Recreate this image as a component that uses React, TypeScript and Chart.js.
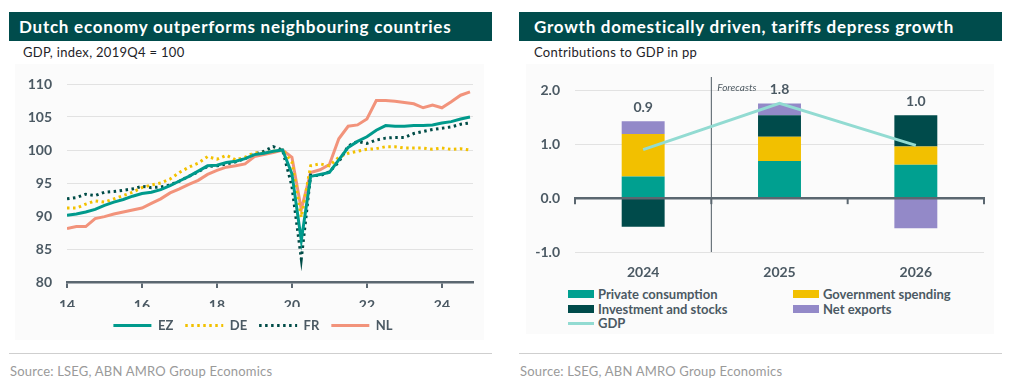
import React, { useEffect, useRef } from "react";
import { Chart, registerables } from "chart.js";

Chart.register(...registerables);

const FONT = "Lato, 'Open Sans', sans-serif";
const SLATE = "#4b5963";
const AXIS = "#5b6770";

// ---------- Left chart: GDP index, 2019Q4 = 100 (quarterly, 2014Q1 .. 2024Q4) ----------
const firstYear = 14; // axis shows two-digit years
const quartersPerYear = 4;
const leftTickYears = [14, 16, 18, 20, 22, 24];
const ezValues = [
  90.1, 90.3, 90.6, 91.0,
  91.6, 92.1, 92.5, 93.0,
  93.4, 93.6, 94.0, 94.6,
  95.3, 96.0, 96.8, 97.6,
  97.7, 98.1, 98.3, 98.7,
  99.3, 99.5, 99.8, 100.0,
  96.4, 86.3, 96.0, 96.3,
  96.6, 98.5, 100.4, 101.3,
  102.0, 103.0, 103.7, 103.6,
  103.6, 103.7, 103.7, 103.8,
  104.1, 104.3, 104.7, 105.0,
];
const deValues = [
  91.2, 91.2, 91.8, 92.3,
  92.1, 92.6, 93.1, 93.6,
  94.3, 94.7, 95.0, 95.6,
  96.6, 97.4, 98.0, 99.0,
  98.6, 99.2, 98.5, 98.9,
  99.6, 99.5, 99.8, 100.0,
  98.2, 89.8, 97.6, 97.9,
  97.6, 98.9, 99.5, 99.8,
  100.1, 100.2, 100.5, 100.5,
  100.3, 100.3, 100.3, 100.1,
  100.3, 100.1, 100.2, 100.0,
];
const frValues = [
  92.6, 92.8, 93.3, 93.1,
  93.6, 93.7, 93.9, 94.1,
  94.5, 94.3, 94.4, 94.7,
  95.3, 96.0, 96.7, 97.5,
  97.6, 97.9, 98.2, 98.7,
  99.4, 99.8, 100.5, 100.0,
  94.5, 83.5, 96.2, 96.1,
  96.7, 98.2, 100.6, 101.3,
  101.0, 101.5, 101.8, 101.9,
  101.9, 102.5, 102.8, 103.1,
  103.3, 103.5, 103.9, 104.1,
];
const nlValues = [
  88.1, 88.4, 88.4, 89.6,
  89.9, 90.3, 90.6, 90.9,
  91.2, 91.9, 92.6, 93.5,
  94.1, 94.8, 95.4, 96.3,
  96.9, 97.4, 97.6, 97.9,
  99.0, 99.3, 99.6, 100.0,
  98.9, 91.0, 96.6, 97.0,
  97.8, 101.7, 103.6, 103.8,
  104.7, 107.5, 107.5, 107.4,
  107.2, 107.0, 106.4, 106.8,
  106.4, 107.3, 108.3, 108.8,
];

// ---------- Right chart: contributions to GDP growth, pp ----------
const barYears = ["2024", "2025", "2026"];
const privateConsumption = [0.4, 0.69, 0.62];
const governmentSpending = [0.79, 0.45, 0.34];
const investmentStocks = [-0.53, 0.4, 0.58];
const netExports = [0.24, 0.22, -0.56];
const gdpGrowth = [0.9, 1.76, 0.98];
const forecastLabel = "Forecasts";

const COLORS = {
  ez: "#009a8c",
  de: "#f2c100",
  fr: "#004c47",
  nl: "#f2937b",
  pc: "#00a090",
  gs: "#f2c000",
  is: "#004b4b",
  nx: "#9389c8",
  gdp: "#92dbd2",
  header: "#004c4c",
};

const toPoints = (vals: number[]) =>
  vals.map((v, i) => ({ x: firstYear + i / quartersPerYear, y: v }));

const font = (size: number, weight: any = "bold") => ({ family: FONT, size, weight });

const noScalePad = (s: any) => {
  s.paddingTop = 0;
  s.paddingBottom = 0;
};

function LeftChart() {
  const ref = useRef<HTMLCanvasElement>(null);
  useEffect(() => {
    const lineDs = (label: string, vals: number[], color: string, dash?: number[]) => ({
      label,
      data: toPoints(vals),
      borderColor: color,
      backgroundColor: color,
      borderWidth: 3,
      borderDash: dash || [],
      borderCapStyle: "butt",
      pointRadius: 0,
      pointStyle: "line",
      tension: 0,
      fill: false,
    });
    const legendShift = {
      id: "legendShift",
      afterLayout(chart: any) {
        const l = chart.legend;
        if (l) {
          l.left += 12;
          l.right += 12;
        }
      },
    };
    const chart = new Chart(ref.current!, {
      type: "line",
      data: {
        datasets: [
          lineDs("EZ", ezValues, COLORS.ez),
          lineDs("DE", deValues, COLORS.de, [2.5, 3.5]),
          lineDs("FR", frValues, COLORS.fr, [2.5, 3.5]),
          lineDs("NL", nlValues, COLORS.nl),
        ] as any,
      },
      options: {
        animation: false,
        responsive: false,
        maintainAspectRatio: false,
        layout: { padding: { top: 24, right: 19, left: 0, bottom: 3 } },
        scales: {
          x: {
            type: "linear",
            min: leftTickYears[0],
            max: 24.83,
            afterBuildTicks: (s: any) => {
              s.ticks = leftTickYears.map((v) => ({ value: v }));
            },
            afterFit: (s: any) => {
              s.height = 25;
            },
            ticks: { font: font(14), color: SLATE, padding: 9, includeBounds: false, callback: (v: any) => String(v) },
            grid: { drawOnChartArea: false, drawTicks: true, tickLength: 6, color: AXIS, lineWidth: 2 },
            border: { display: true, color: AXIS, width: 2.5 },
          },
          y: {
            min: 80,
            max: 110,
            afterFit: (s: any) => {
              s.width = 58;
              noScalePad(s);
            },
            ticks: { stepSize: 5, includeBounds: false, font: font(14), color: SLATE, padding: 15 },
            grid: { color: "#e2e2e2", lineWidth: 1, drawTicks: false },
            border: { display: false },
          },
        },
        plugins: {
          tooltip: { enabled: false },
          legend: {
            position: "bottom",
            labels: {
              usePointStyle: true,
              pointStyle: "line",
              pointStyleWidth: 38,
              boxWidth: 38,
              boxHeight: 13,
              padding: 12,
              color: SLATE,
              font: font(13),
              generateLabels: (chart: any) =>
                chart.data.datasets.map((ds: any, i: number) => ({
                  text: ds.label,
                  datasetIndex: i,
                  strokeStyle: ds.borderColor,
                  fillStyle: ds.borderColor,
                  fontColor: SLATE,
                  lineWidth: 3,
                  lineDash: ds.borderDash,
                  lineCap: "butt",
                  pointStyle: "line",
                  hidden: false,
                })),
            },
          },
        },
      } as any,
      plugins: [legendShift],
    });
    return () => chart.destroy();
  }, []);
  return <canvas ref={ref} width={483} height={285} style={{ width: 483, height: 285, display: "block" }} />;
}

function RightChart() {
  const ref = useRef<HTMLCanvasElement>(null);
  useEffect(() => {
    const series = [privateConsumption, governmentSpending, investmentStocks, netExports];
    const annot = {
      id: "annot",
      beforeDatasetsDraw(chart: any) {
        const { ctx, chartArea, scales } = chart;
        const x = scales.x;
        const fx = x.getPixelForValue(0.5);
        ctx.save();
        ctx.strokeStyle = "#4f5b63";
        ctx.lineWidth = 1;
        ctx.beginPath();
        ctx.moveTo(fx, chartArea.top);
        ctx.lineTo(fx, chartArea.bottom);
        ctx.stroke();
        ctx.fillStyle = "#4f5b63";
        ctx.font = `italic 10px ${FONT}`;
        ctx.textAlign = "left";
        ctx.textBaseline = "middle";
        ctx.fillText(forecastLabel, fx + 6, chartArea.top + 11);
        ctx.restore();
      },
      afterDatasetsDraw(chart: any) {
        const { ctx, chartArea, scales } = chart;
        const x = scales.x;
        const y = scales.y;
        const y0 = y.getPixelForValue(0);
        ctx.save();
        ctx.strokeStyle = AXIS;
        ctx.lineWidth = 2.5;
        ctx.beginPath();
        ctx.moveTo(chartArea.left - 1, y0);
        ctx.lineTo(chartArea.right + 1, y0);
        ctx.stroke();
        ctx.lineWidth = 2;
        for (let i = 0; i <= barYears.length; i++) {
          const px = x.getPixelForValue(i - 0.5);
          ctx.beginPath();
          ctx.moveTo(px, y0);
          ctx.lineTo(px, y0 + 6);
          ctx.stroke();
        }
        ctx.fillStyle = SLATE;
        ctx.font = `bold 14px ${FONT}`;
        ctx.textAlign = "center";
        ctx.textBaseline = "middle";
        barYears.forEach((_, i) => {
          const pos = series.reduce((a, s) => a + Math.max(0, s[i]), 0);
          ctx.fillText(gdpGrowth[i].toFixed(1), x.getPixelForValue(i), y.getPixelForValue(pos) - 14);
        });
        ctx.restore();
      },
    };
    const barDs = (label: string, vals: number[], color: string) => ({
      type: "bar",
      label,
      data: vals,
      backgroundColor: color,
      stack: "contrib",
      order: 1,
      barPercentage: 1,
      categoryPercentage: 0.315,
    });
    const chart = new Chart(ref.current!, {
      type: "bar",
      data: {
        labels: barYears,
        datasets: [
          {
            type: "line",
            label: "GDP",
            data: gdpGrowth,
            borderColor: COLORS.gdp,
            backgroundColor: COLORS.gdp,
            borderWidth: 3,
            pointRadius: 0,
            tension: 0,
            stack: "gdp",
            order: 0,
          },
          barDs("Private consumption", privateConsumption, COLORS.pc),
          barDs("Government spending", governmentSpending, COLORS.gs),
          barDs("Investment and stocks", investmentStocks, COLORS.is),
          barDs("Net exports", netExports, COLORS.nx),
        ] as any,
      },
      options: {
        animation: false,
        responsive: false,
        maintainAspectRatio: false,
        layout: { padding: { top: 17, right: 18, left: 0, bottom: 0 } },
        scales: {
          x: {
            stacked: true,
            afterFit: (s: any) => {
              s.height = 33;
            },
            ticks: { font: font(14), color: SLATE, padding: 12 },
            grid: { display: false, drawTicks: false },
            border: { display: false },
          },
          y: {
            stacked: true,
            min: -1,
            max: 2.25,
            afterFit: (s: any) => {
              s.width = 56;
              noScalePad(s);
            },
            afterBuildTicks: (s: any) => {
              s.ticks = s.ticks.filter((t: any) => Number.isInteger(Math.round(t.value * 1000) / 1000));
            },
            ticks: {
              stepSize: 1,
              includeBounds: false,
              font: font(14),
              color: SLATE,
              padding: 15,
              callback: (v: any) => Number(v).toFixed(1),
            },
            grid: { color: "#e2e2e2", lineWidth: 1, drawTicks: false },
            border: { display: false },
          },
        },
        plugins: { legend: { display: false }, tooltip: { enabled: false } },
      } as any,
      plugins: [annot],
    });
    return () => chart.destroy();
  }, []);
  return <canvas ref={ref} width={483} height={225} style={{ width: 483, height: 225, display: "block" }} />;
}

const legendItems = [
  { label: "Private consumption", color: COLORS.pc, kind: "box", col: 0, row: 0 },
  { label: "Government spending", color: COLORS.gs, kind: "box", col: 1, row: 0 },
  { label: "Investment and stocks", color: COLORS.is, kind: "box", col: 0, row: 1 },
  { label: "Net exports", color: COLORS.nx, kind: "box", col: 1, row: 1 },
  { label: "GDP", color: COLORS.gdp, kind: "line", col: 0, row: 2 },
];

const abs = (x: number, y: number, extra: any = {}) => ({ position: "absolute" as const, left: x - 8, top: y - 8, ...extra });

const headerStyle = {
  height: 29,
  background: COLORS.header,
  color: "#fff",
  fontWeight: 700,
  fontSize: 17,
  letterSpacing: "0.75px",
  lineHeight: "29px",
  whiteSpace: "nowrap",
};

export default function App() {
  const colX = [568, 793];
  const rowY = [294, 308.5, 323];
  return (
    <div style={{ position: "relative", width: 996, height: 373, fontFamily: FONT, background: "#fff" }}>
      {/* plot backdrops */}
      <div style={abs(15, 64, { width: 469, height: 276, background: "#fbfbfb" })} />
      <div style={abs(526, 64, { width: 468, height: 270, background: "#fbfbfb" })} />

      {/* headers */}
      <div style={abs(9, 12, { ...headerStyle, width: 473, paddingLeft: 10 })}>
        Dutch economy outperforms neighbouring countries
      </div>
      <div style={abs(519, 12, { ...headerStyle, width: 468, paddingLeft: 15 })}>
        Growth domestically driven, tariffs depress growth
      </div>
      <div style={abs(23, 45, { fontSize: 13, letterSpacing: "0.3px", lineHeight: "14px", color: "#1e2328", whiteSpace: "nowrap" })}>GDP, index, 2019Q4 = 100</div>
      <div style={abs(534, 45, { fontSize: 13, letterSpacing: "0.3px", lineHeight: "14px", color: "#1e2328", whiteSpace: "nowrap" })}>Contributions to GDP in pp</div>

      <div style={abs(9, 60)}>
        <LeftChart />
      </div>
      <div style={abs(519, 60)}>
        <RightChart />
      </div>

      {/* right legend */}
      {legendItems.map((it) => (
        <div key={it.label} style={abs(colX[it.col], rowY[it.row] - 8, { height: 16, display: "flex", alignItems: "center", whiteSpace: "nowrap" })}>
          <span
            style={{
              display: "inline-block",
              width: 26,
              height: it.kind === "box" ? 8 : 3,
              background: it.color,
              marginRight: 4,
            }}
          />
          <span style={{ fontSize: 13, fontWeight: 700, color: SLATE, lineHeight: "16px" }}>{it.label}</span>
        </div>
      ))}

      {/* footers */}
      <div style={abs(9, 352.5, { width: 483, height: 1, background: "#cfcfcf" })} />
      <div style={abs(519, 352.5, { width: 483, height: 1, background: "#cfcfcf" })} />
      <div style={abs(10, 363, { fontSize: 13, letterSpacing: "0.2px", lineHeight: "16px", color: "#9a9a9a", whiteSpace: "nowrap" })}>Source: LSEG, ABN AMRO Group Economics</div>
      <div style={abs(520, 363, { fontSize: 13, letterSpacing: "0.2px", lineHeight: "16px", color: "#9a9a9a", whiteSpace: "nowrap" })}>Source: LSEG, ABN AMRO Group Economics</div>
    </div>
  );
}
